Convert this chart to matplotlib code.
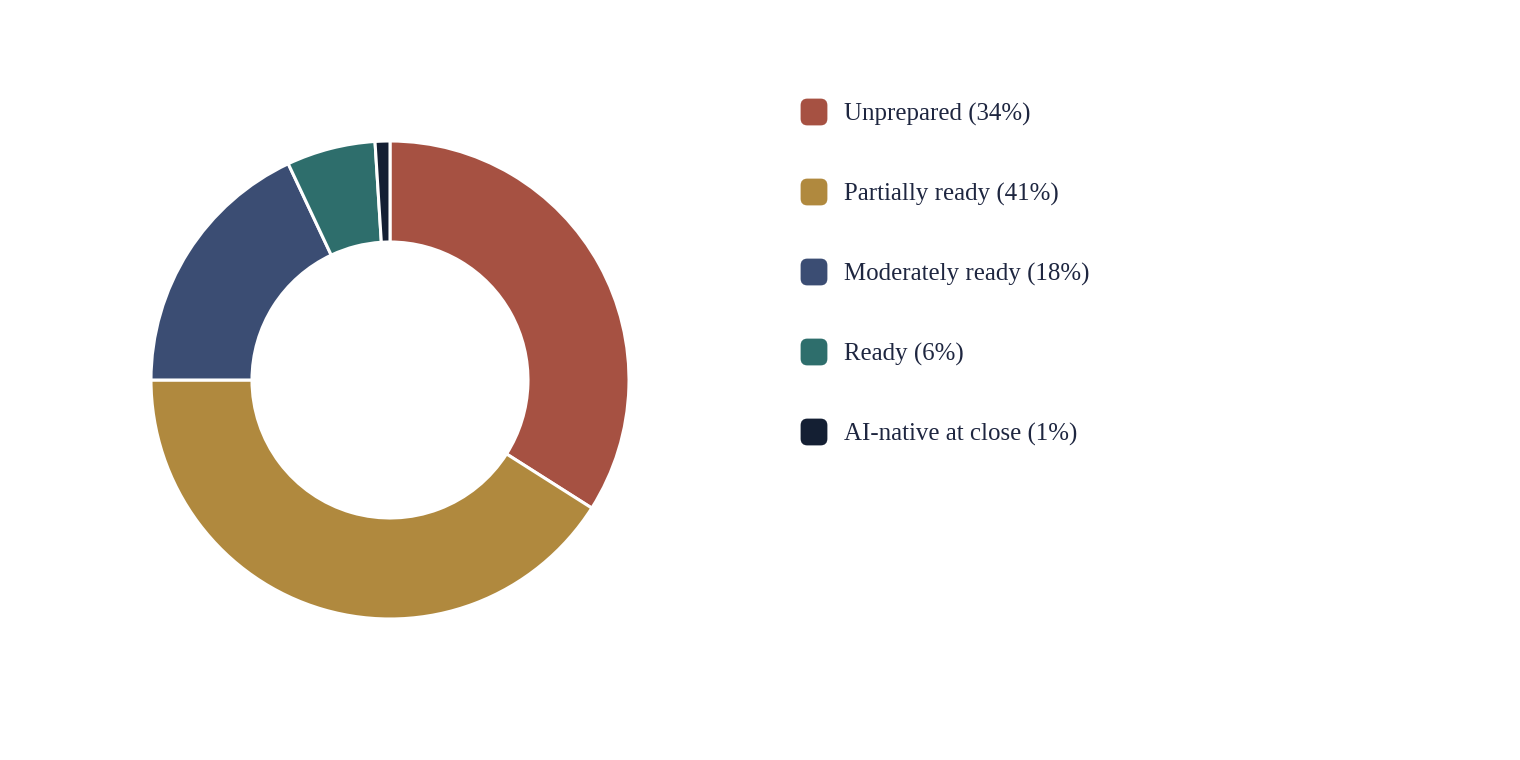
import matplotlib
matplotlib.use("Agg")
import matplotlib.pyplot as plt
from matplotlib.patches import FancyBboxPatch

categories = ["Unprepared", "Partially ready", "Moderately ready", "Ready", "AI-native at close"]
values = [34, 41, 18, 6, 1]
colors = ["#A65142", "#B0893E", "#3B4D73", "#2E6E6C", "#141F33"]

W, H = 1520, 760
fig = plt.figure(figsize=(W / 100, H / 100), dpi=100)
fig.patch.set_facecolor("white")

cx, cy, R = 390, 380, 240
ax = fig.add_axes([(cx - R) / W, (H - cy - R) / H, 2 * R / W, 2 * R / H])
ax.pie(values, colors=colors, startangle=90, counterclock=False, radius=239 / 240,
       wedgeprops=dict(width=101 / 240, edgecolor="white", linewidth=2.2))
ax.set_xlim(-1, 1)
ax.set_ylim(-1, 1)
ax.set_aspect("equal")
ax.axis("off")

text_color = "#1E2640"
for i, (cat, val, col) in enumerate(zip(categories, values, colors)):
    ym = 112 + 80 * i
    sq = FancyBboxPatch(((800 + 2) / W, (H - ym - 14 + 2) / H), 24 / W, 24 / H,
                        boxstyle="round,pad=0,rounding_size=0.0035",
                        transform=fig.transFigure, facecolor=col, edgecolor=col,
                        linewidth=2)
    sq.set_mutation_aspect(W / H)
    fig.patches.append(sq)
    fig.text(844 / W, (H - ym) / H, f"{cat} ({val}%)", fontsize=17.9,
             family="Liberation Serif", color=text_color, va="center_baseline", ha="left")

fig.savefig("out.png", dpi=100, facecolor="white")
